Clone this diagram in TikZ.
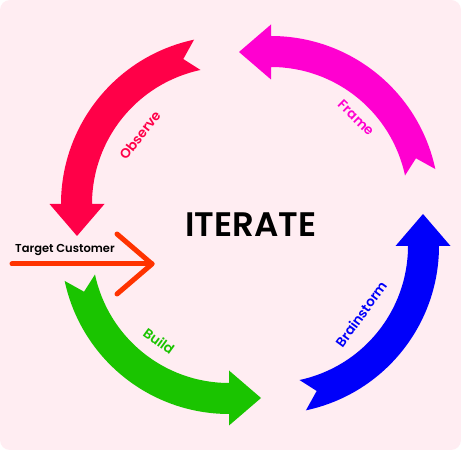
\documentclass[tikz,border=0pt]{standalone}
\usepackage{fontspec}
\setmainfont{Poppins}[BoldFont={Poppins SemiBold}]
\usetikzlibrary{calc}
\definecolor{bgpink}{RGB}{255,237,242}
\definecolor{obsred}{RGB}{255,0,72}
\definecolor{framemag}{RGB}{255,0,208}
\definecolor{buildgreen}{RGB}{26,196,0}
\definecolor{brainblue}{RGB}{0,0,250}
\definecolor{targetred}{RGB}{255,51,0}
% #1 colour, #2 cx, #3 cy, #4 base angle of the quadrant
\newcommand{\cyclearrow}[4]{%
  \fill[#1] ($(#2,#3)+({#4+12}:168pt)$)
    arc[start angle={#4+12}, end angle={#4+90}, radius=168pt]
    -- ($(#2,#3)+({#4+90}:179.5pt)$)
    -- ($(#2,#3)+({#4+90}:152pt)+({#4+180}:32pt)$)
    -- ($(#2,#3)+({#4+90}:124.5pt)$)
    -- ($(#2,#3)+({#4+90}:137pt)$)
    arc[start angle={#4+90}, end angle={#4+12}, radius=137pt]
    -- ($(#2,#3)+({#4+17.5}:152pt)$) -- cycle;}
\tikzset{
  arclabel/.style={font=\bfseries\fontsize{13.5}{15}\selectfont, inner sep=0pt},
}
\begin{document}
\begin{tikzpicture}[x=1pt,y=1pt]
  \useasboundingbox (0,0) rectangle (461,450);
  \fill[white] (0,0) rectangle (461,450);
  \fill[bgpink, rounded corners=10pt] (0,0) rectangle (461,450);
  % cycle arrows
  \cyclearrow{framemag}{271}{246}{0}
  \cyclearrow{obsred}{229}{246}{90}
  \cyclearrow{buildgreen}{229}{204}{180}
  \cyclearrow{brainblue}{271}{204}{270}
  % labels
  \node[arclabel, text=framemag, rotate=-44] (frame) at (356,332) {Frame};
  \node[arclabel, text=obsred, rotate=52] (observe) at (140,315) {Observe};
  \node[arclabel, text=buildgreen, rotate=-36] (build) at (159,109) {Build};
  \node[arclabel, text=brainblue, rotate=54] (brain) at (361,136) {Brainstorm};
  % centre
  \node[font=\bfseries\fontsize{34}{38}\selectfont, inner sep=0pt] (iterate) at (251,225) {ITERATE};
  % target customer
  \node[font=\fontsize{11.5}{14}\selectfont\bfseries, anchor=base west, inner sep=0pt] (target) at (15,197) {Target Customer};
  \coordinate (tstart) at (12,186);
  \coordinate (ttip) at (152,186);
  \coordinate (tbarbup) at (117,216);
  \coordinate (tbarbdn) at (117,156);
  \draw[targetred, line width=5pt, line cap=round, line join=round] (tstart) -- (ttip);
  \draw[targetred, line width=5pt, line cap=round, line join=round] (tbarbup) -- (ttip) -- (tbarbdn);
\end{tikzpicture}
\end{document}
